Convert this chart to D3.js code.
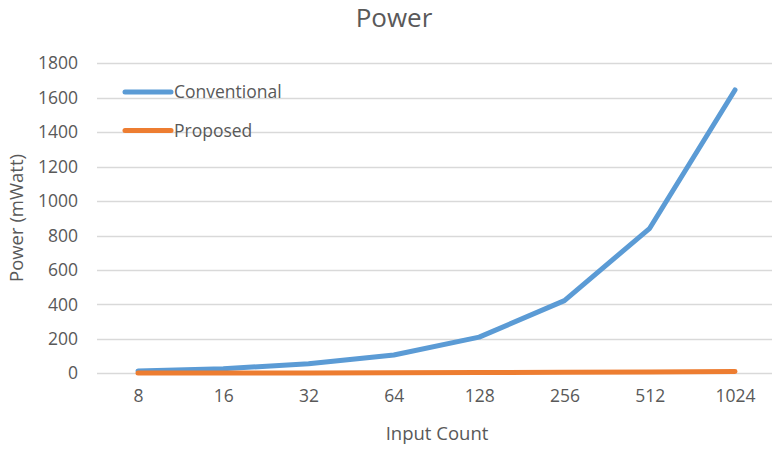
<!DOCTYPE html>
<html>
<head>
<meta charset="utf-8">
<script src="https://cdn.jsdelivr.net/npm/d3@7/dist/d3.min.js"></script>
<style>
  html, body { margin: 0; padding: 0; background: #fff; }
  svg { display: block; font-family: "Open Sans", sans-serif; }
</style>
</head>
<body>
<svg id="chart" width="772" height="449"></svg>
<script>
// Input counts along the x axis
const categories = ["8", "16", "32", "64", "128", "256", "512", "1024"];
// Power in mWatt for each design
const conventional = [14, 27, 55, 106, 210, 422, 842, 1645];
const proposed = [2, 2, 2, 3, 4, 6, 7, 10];
const yTicks = [0, 200, 400, 600, 800, 1000, 1200, 1400, 1600, 1800];

const seriesList = [
  { name: "Conventional", values: conventional, color: "#5b9bd5" },
  { name: "Proposed", values: proposed, color: "#ed7d31" }
];

const svg = d3.select("#chart");
const textColor = "#595959";
const gridColor = "#d9d9d9";

const x = d3.scalePoint().domain(categories).range([138, 735]);
const y = d3.scaleLinear().domain([0, 1800]).range([373.3, 63.3]);

// horizontal gridlines
svg.append("g")
  .selectAll("line")
  .data(yTicks)
  .join("line")
  .attr("x1", 97).attr("x2", 772)
  .attr("y1", d => Math.round(y(d)) + 0.5)
  .attr("y2", d => Math.round(y(d)) + 0.5)
  .attr("stroke", gridColor)
  .attr("stroke-width", 1.3);

// y axis labels
const yAxis = svg.append("g")
  .attr("transform", "translate(78,0)")
  .call(d3.axisLeft(y).tickValues(yTicks).tickFormat(d3.format("d")).tickSize(0).tickPadding(0));
yAxis.select(".domain").remove();
yAxis.selectAll("text")
  .attr("fill", textColor)
  .style("font-size", "17.5px")
  .style("font-family", "'Open Sans', sans-serif");

// x axis labels
const xAxis = svg.append("g")
  .attr("transform", "translate(0,390)")
  .call(d3.axisBottom(x).tickSize(0).tickPadding(0));
xAxis.select(".domain").remove();
xAxis.selectAll("text")
  .attr("fill", textColor)
  .style("font-size", "17.5px")
  .style("font-family", "'Open Sans', sans-serif");

// lines
const line = d3.line()
  .x((d, i) => x(categories[i]))
  .y(d => y(d));

svg.append("g")
  .selectAll("path")
  .data(seriesList)
  .join("path")
  .attr("d", d => line(d.values))
  .attr("fill", "none")
  .attr("stroke", d => d.color)
  .attr("stroke-width", 5)
  .attr("stroke-linecap", "round")
  .attr("stroke-linejoin", "round");

// legend
const legend = svg.append("g")
  .selectAll("g")
  .data(seriesList)
  .join("g")
  .attr("transform", (d, i) => `translate(0,${92 + i * 38.5})`);
legend.append("line")
  .attr("x1", 125).attr("x2", 171)
  .attr("stroke", d => d.color)
  .attr("stroke-width", 5)
  .attr("stroke-linecap", "round");
legend.append("text")
  .attr("x", 174)
  .attr("dy", "0.35em")
  .attr("fill", textColor)
  .style("font-size", "17.5px")
  .text(d => d.name);

// title
svg.append("text")
  .attr("x", 394).attr("y", 27)
  .attr("text-anchor", "middle")
  .attr("fill", textColor)
  .style("font-size", "26px")
  .text("Power");

// axis titles
svg.append("text")
  .attr("x", 437).attr("y", 440)
  .attr("text-anchor", "middle")
  .attr("fill", textColor)
  .style("font-size", "18.5px")
  .text("Input Count");

svg.append("text")
  .attr("transform", "translate(23,218) rotate(-90)")
  .attr("text-anchor", "middle")
  .attr("fill", textColor)
  .style("font-size", "18.5px")
  .text("Power (mWatt)");
</script>
</body>
</html>
